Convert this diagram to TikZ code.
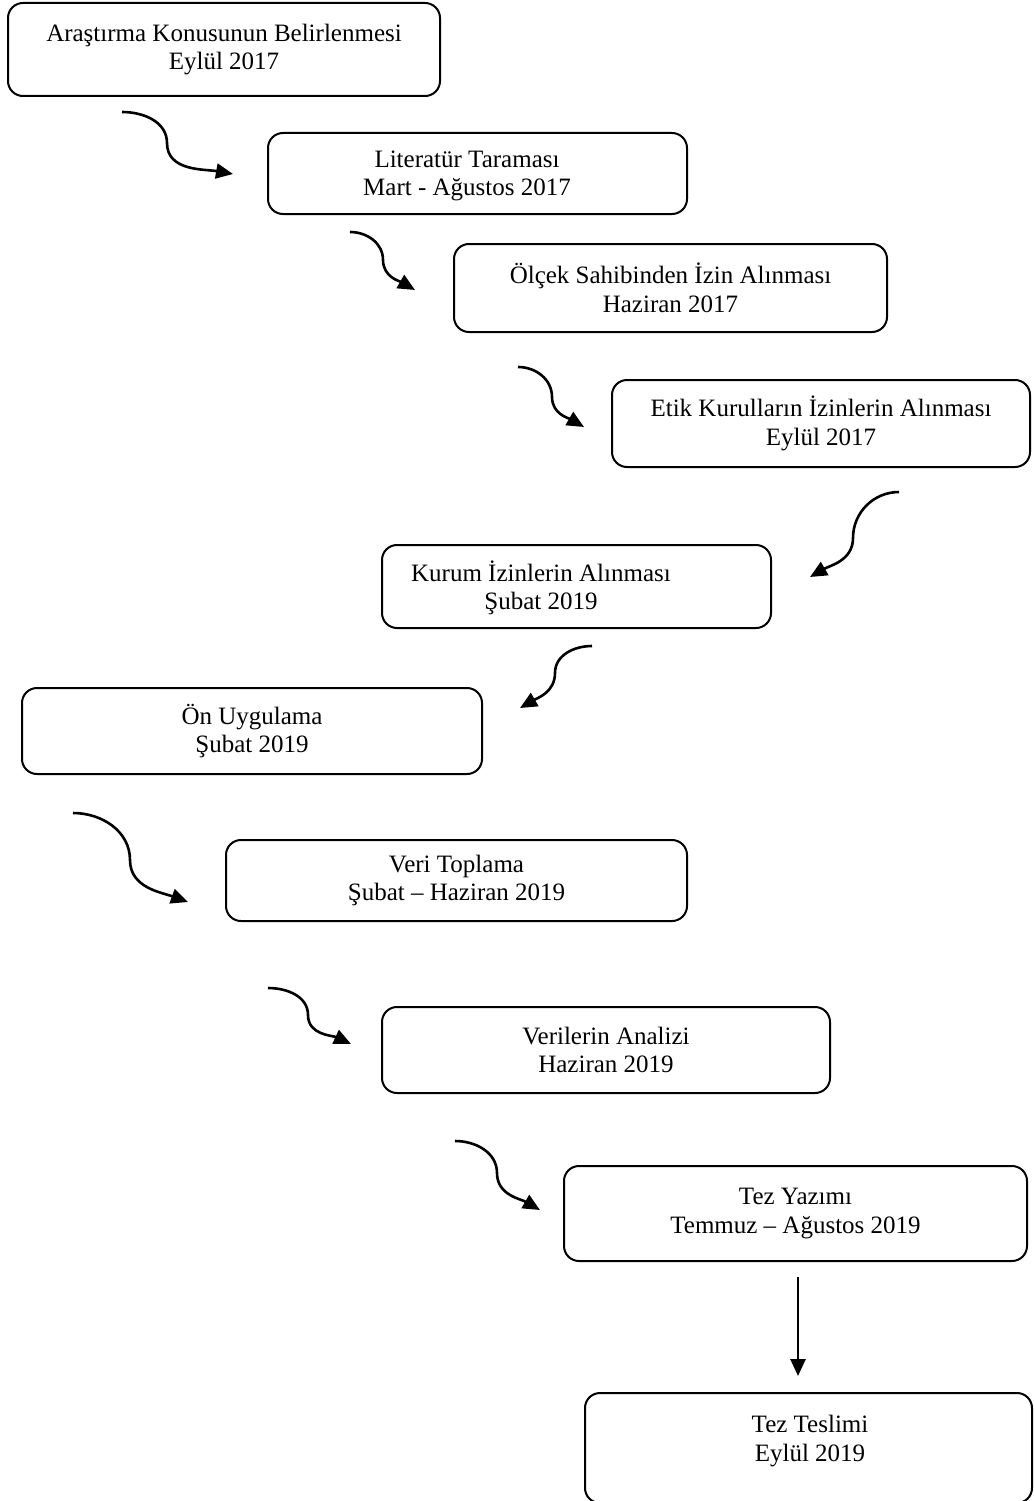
\documentclass[tikz,border=0pt]{standalone}
\usepackage{fontspec}
\setmainfont{Liberation Serif}
\usetikzlibrary{arrows.meta}
\begin{document}
\begin{tikzpicture}[x=1pt, y=-1pt, line join=round,
  every node/.style={font=\fontsize{25}{28.5}\selectfont, align=center},
  stagebox/.style={draw, line width=2pt, rounded corners=15pt, inner sep=0pt},
  flow/.style={line width=2.6pt, -{Triangle[length=17pt,width=15pt]}}]
\useasboundingbox (0,0) rectangle (1033,1501);
% stages
\node[stagebox, minimum width=432, minimum height=93] (konu) at (224,49.5) {Araştırma Konusunun Belirlenmesi\\Eylül 2017};
\node[stagebox, minimum width=419, minimum height=81] (lit) at (477.5,173.5) {};
\node (littxt) at (467,176) {Literatür Taraması\\Mart - Ağustos 2017};
\node[stagebox, minimum width=433, minimum height=88] (olcek) at (670.5,288) {Ölçek Sahibinden İzin Alınması\\Haziran 2017};
\node[stagebox, minimum width=418, minimum height=87] (etik) at (821,423.5) {Etik Kurulların İzinlerin Alınması\\Eylül 2017};
\node[stagebox, minimum width=389, minimum height=83] (kurum) at (576.5,586.5) {};
\node (kurumtxt) at (541,588) {Kurum İzinlerin Alınması\\Şubat 2019};
\node[stagebox, minimum width=460, minimum height=86] (on) at (252,731) {Ön Uygulama\\Şubat 2019};
\node[stagebox, minimum width=461, minimum height=81] (veri) at (456.5,880.5) {Veri Toplama\\Şubat – Haziran 2019};
\node[stagebox, minimum width=448, minimum height=86] (analiz) at (606,1050) {Verilerin Analizi\\Haziran 2019};
\node[stagebox, minimum width=463, minimum height=95] (tez) at (795.5,1213.5) {Tez Yazımı\\Temmuz – Ağustos 2019};
\node[stagebox, minimum width=447, minimum height=110] (teslim) at (808.5,1448) {};
\node (teslimtxt) at (810,1441) {Tez Teslimi\\Eylül 2019};
% curved arrows
\coordinate (a1s) at (122,112); \coordinate (a1m) at (167,143); \coordinate (a1e) at (233,174);
\draw[flow] (a1s) to[out=0,in=90] (a1m) to[out=-90,in=170] (a1e);
\coordinate (a2s) at (350,232); \coordinate (a2m) at (383,260); \coordinate (a2e) at (415,290);
\draw[flow] (a2s) to[out=0,in=90] (a2m) to[out=-90,in=150] (a2e);
\coordinate (a3s) at (518,367); \coordinate (a3m) at (552,397); \coordinate (a3e) at (584,427);
\draw[flow] (a3s) to[out=0,in=90] (a3m) to[out=-90,in=150] (a3e);
\coordinate (a4s) at (899,492); \coordinate (a4m) at (853,538); \coordinate (a4e) at (810,577);
\draw[flow] (a4s) to[out=180,in=90] (a4m) to[out=-90,in=30] (a4e);
\coordinate (a5s) at (592,646); \coordinate (a5m) at (555,673); \coordinate (a5e) at (520,708);
\draw[flow] (a5s) to[out=180,in=90] (a5m) to[out=-90,in=30] (a5e);
\coordinate (a6s) at (73,813); \coordinate (a6m) at (130,860); \coordinate (a6e) at (188,902);
\draw[flow] (a6s) to[out=0,in=90] (a6m) to[out=-90,in=160] (a6e);
\coordinate (a7s) at (268,988); \coordinate (a7m) at (308,1015); \coordinate (a7e) at (351,1044);
\draw[flow] (a7s) to[out=0,in=90] (a7m) to[out=-90,in=155] (a7e);
\coordinate (a8s) at (455,1141); \coordinate (a8m) at (497,1173); \coordinate (a8e) at (540,1210);
\draw[flow] (a8s) to[out=0,in=90] (a8m) to[out=-90,in=150] (a8e);
% last step
\coordinate (a9s) at (798,1277); \coordinate (a9e) at (798,1376);
\draw[flow] (a9s) -- (a9e);
\end{tikzpicture}
\end{document}
